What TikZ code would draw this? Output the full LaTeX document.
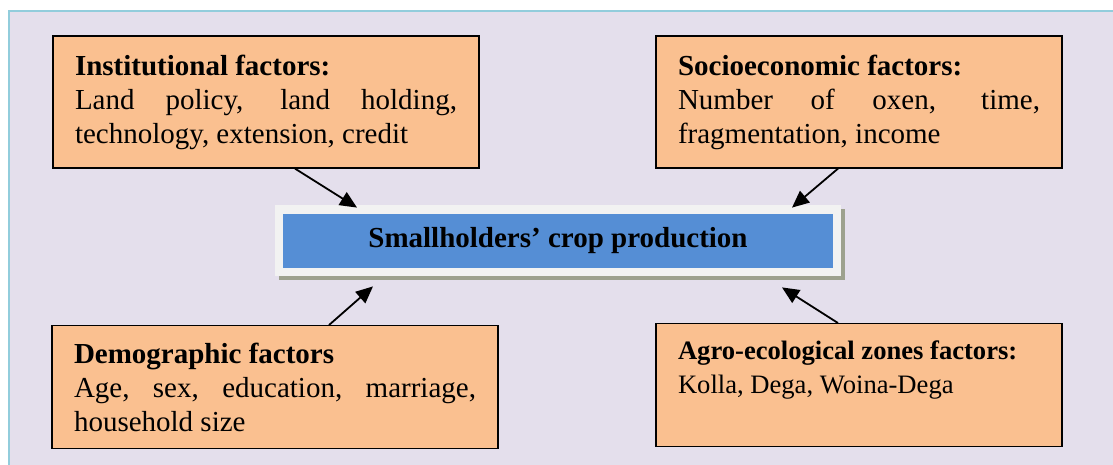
\documentclass[tikz,border=0pt]{standalone}
\usepackage{fontspec}
\setmainfont{Liberation Serif}
\usepackage{tikz}
\usetikzlibrary{arrows.meta}
\usetikzlibrary{shadows}

\definecolor{bgfill}{HTML}{E4DFEC}
\definecolor{bgline}{HTML}{92CDDC}
\definecolor{boxfill}{HTML}{FAC090}
\definecolor{framefill}{HTML}{F2F2F2}
\definecolor{cropblue}{HTML}{558ED5}
\definecolor{shadowgray}{HTML}{9DA18E}

\hyphenpenalty=10000
\exhyphenpenalty=10000

\tikzset{
	factor/.style={draw=black,line width=0.6pt,fill=boxfill,inner xsep=11pt,inner ysep=8.5pt,align=justify,font=\fontsize{14.5}{17}\selectfont},
	arr/.style={line width=0.9pt,-{Triangle[length=8.5pt,width=7.5pt]}}
}

\begin{document}
\begin{tikzpicture}[x=0.5pt,y=-0.5pt]
	\useasboundingbox (0,0) rectangle (1113,465);
	\fill[white] (0,0) rectangle (1113,465);
	\draw[bgline,line width=1pt,fill=bgfill] (9,11) rectangle (1130,480);
	\node[factor,text width=191pt,minimum height=66pt] (inst) at (266,102) {\textbf{Institutional factors:}\\Land policy, land holding, technology, extension, credit};
	\node[factor,text width=181pt,minimum height=66pt] (socio) at (859,102) {\textbf{Socioeconomic factors:}\\Number of oxen, time, fragmentation, income};
	\node[factor,text width=201pt,minimum height=61pt] (demo) at (275,387) {\textbf{Demographic factors}\\Age, sex, education, marriage, household size};
	\node[factor,text width=181pt,minimum height=61pt,text depth=35pt,font=\fontsize{13.3}{17}\selectfont] (agro) at (859,385) {\textbf{Agro-ecological zones factors:}\\Kolla, Dega, Woina-Dega};
	\node[fill=framefill,inner sep=0pt,minimum width=283pt,minimum height=35.5pt,drop shadow={shadow xshift=1.75pt,shadow yshift=-2pt,fill=shadowgray,opacity=1}] (frame) at (558,240.5) {};
	\node[fill=cropblue,inner sep=0pt,minimum width=275pt,minimum height=27pt,font=\bfseries\fontsize{14.5}{17}\selectfont] (prod) at (frame.center) {Smallholders’ crop production};
	\draw[arr] ([xshift=14.5pt]inst.south) -- ([xshift=-100.5pt,yshift=-1.5pt]frame.north);
	\draw[arr] ([xshift=-10.5pt]socio.south) -- ([xshift=117pt,yshift=-1.5pt]frame.north);
	\draw[arr] ([xshift=27pt]demo.north) -- ([xshift=-92.5pt,yshift=-5pt]frame.south);
	\draw[arr] ([xshift=-10.5pt]agro.north) -- ([xshift=112pt,yshift=-5.5pt]frame.south);
\end{tikzpicture}
\end{document}
